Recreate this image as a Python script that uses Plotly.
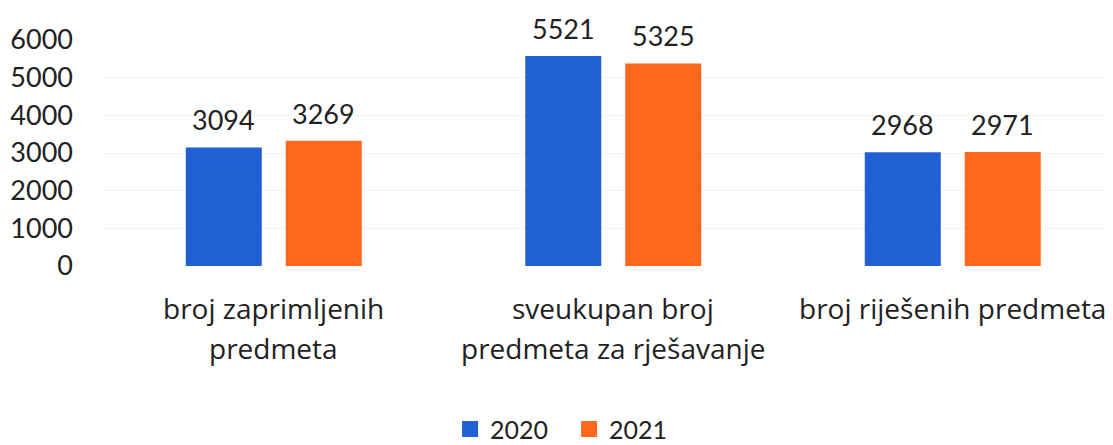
import plotly.graph_objects as go

categories = ["broj zaprimljenih\npredmeta", "sveukupan broj\npredmeta za rješavanje", "broj riješenih predmeta"]
years = ["2020", "2021"]
values_2020 = [3094, 5521, 2968]
values_2021 = [3269, 5325, 2971]
y_ticks = [0, 1000, 2000, 3000, 4000, 5000, 6000]

colors = {"2020": "#2160D4", "2021": "#FF671F"}
FONT = "Lato"
CAT_FONT = "Open Sans"
TXT = "#222222"

cat_keys = [c.replace("\n", " ") for c in categories]

fig = go.Figure()
for yr, vals in zip(years, [values_2020, values_2021]):
    fig.add_trace(go.Bar(
        name=yr, x=cat_keys, y=vals, marker_color=colors[yr],
        marker_line=dict(color=colors[yr], width=4),
        cliponaxis=False,
    ))

annotations = []
line_shifts = [-42, -82]
for key, cat in zip(cat_keys, categories):
    for i, line in enumerate(cat.split("\n")):
        annotations.append(dict(
            x=key, xref="x", y=0, yref="paper", yanchor="middle",
            yshift=line_shifts[i], text=line, showarrow=False,
            font=dict(family=CAT_FONT, size=28, color=TXT),
        ))
# value labels above bars
for j, (yr, vals) in enumerate(zip(years, [values_2020, values_2021])):
    for key, v in zip(cat_keys, vals):
        annotations.append(dict(
            x=key, xref="x", y=v, yref="y", yanchor="bottom",
            xshift=-50 if j == 0 else 50, yshift=11, text=str(v), showarrow=False,
            font=dict(family=FONT, size=27, color=TXT),
        ))

fig.update_layout(
    width=1105, height=437,
    margin=dict(l=96, r=0, t=32, b=179, autoexpand=False),
    paper_bgcolor="white", plot_bgcolor="white",
    barmode="group", bargap=0.411, bargroupgap=0.28,
    font=dict(family=FONT, size=26, color=TXT),
    showlegend=True,
    legend=dict(orientation="h", x=0.343, xanchor="left", y=-0.722, yanchor="middle",
                font=dict(family=FONT, size=25, color=TXT), itemwidth=30, entrywidth=74,
                traceorder="normal"),
    annotations=annotations,
)
fig.update_xaxes(range=[-0.5, 2.472], showticklabels=False, showline=False, showgrid=False,
                 zeroline=False, automargin=False)
fig.update_yaxes(range=[0, 6000], tickvals=y_ticks, showgrid=True, gridcolor="#F3F3F3",
                 zeroline=False, showline=False, ticks="", ticklabelstandoff=30, automargin=False,
                 tickfont=dict(family=FONT, size=27, color=TXT))

fig.write_html("out.html")
